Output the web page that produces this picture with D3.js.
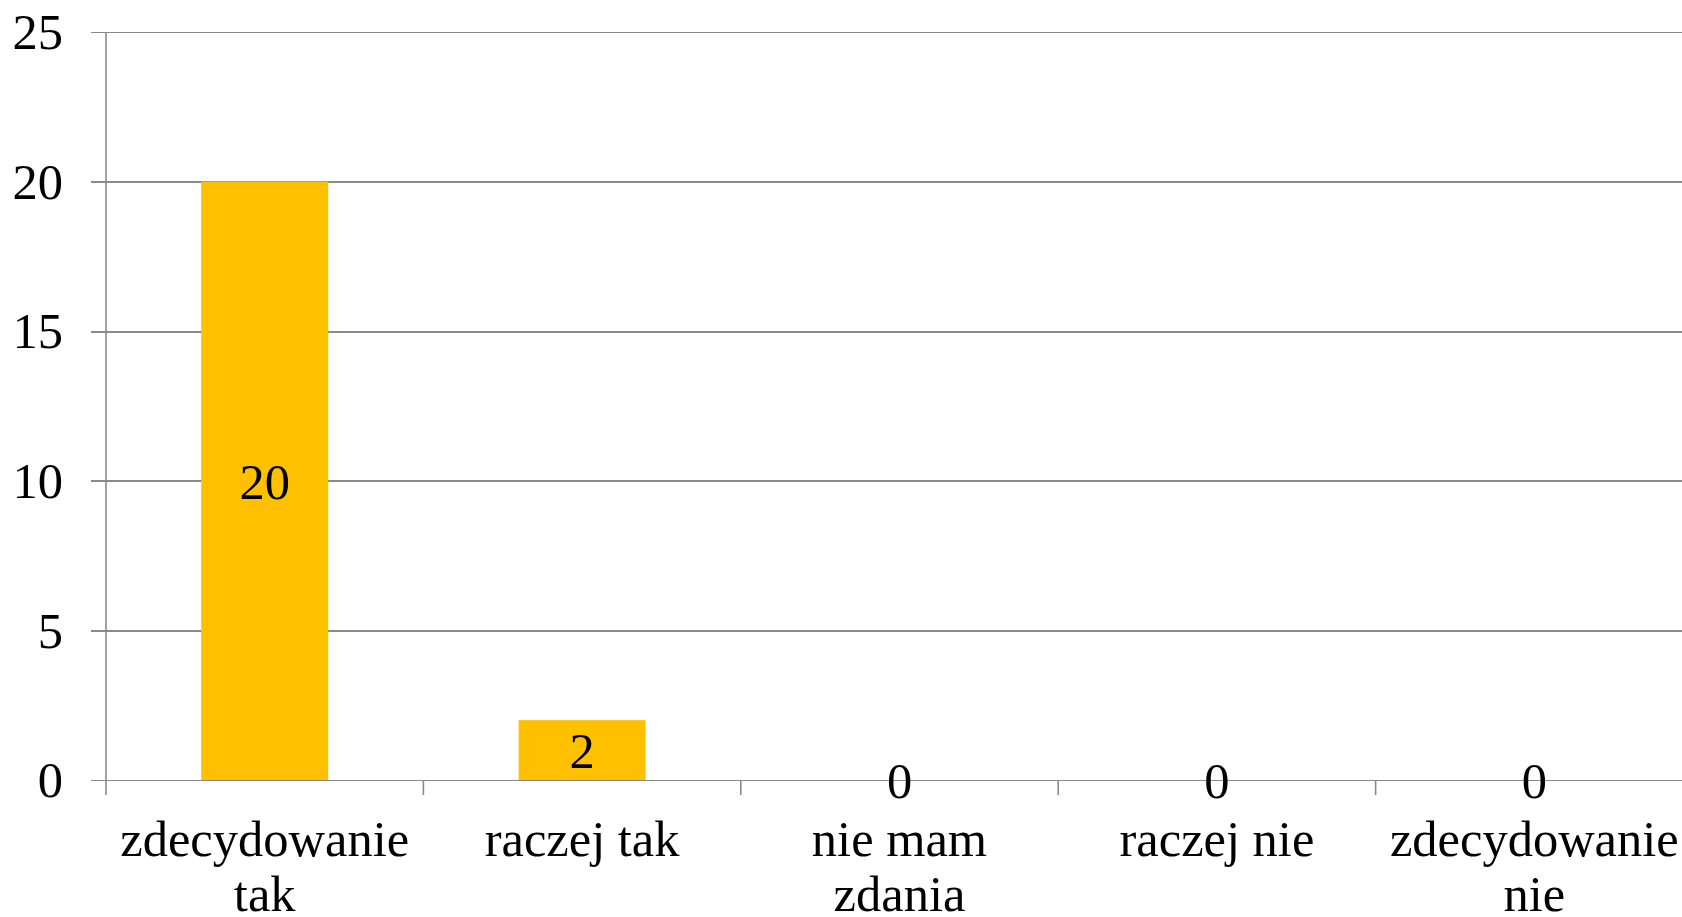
<!DOCTYPE html>
<html lang="pl">
<meta charset="utf-8">
<head>
    <title>Wykres</title>
    <script src="https://d3js.org/d3.v7.min.js"></script>
    <style type="text/css">
        body { margin: 0; background: #fff; }
        svg text { font-family: "Liberation Serif", serif; font-size: 50.5px; fill: #000; }
        .grid line { stroke: #8a8a8a; stroke-width: 1.6; shape-rendering: crispEdges; }
        .grid path { display: none; }
    </style>
</head>
<body>
<div id="chart"></div>
<script>
// Data
var categories = [["zdecydowanie", "tak"], ["raczej tak"], ["nie mam", "zdania"], ["raczej nie"], ["zdecydowanie", "nie"]];
var values = [20, 2, 0, 0, 0];
var yTicks = [0, 5, 10, 15, 20, 25];

var W = 1682, H = 917;
var margin = {left: 106, top: 32};
var plotW = 1587, plotH = 748;

var svg = d3.select("#chart").append("svg")
    .attr("width", W).attr("height", H);

var g = svg.append("g").attr("transform", "translate(" + margin.left + "," + margin.top + ")");

var x = d3.scaleBand()
    .domain(d3.range(values.length))
    .range([0, plotW]);

var y = d3.scaleLinear()
    .domain([0, 25])
    .range([plotH, 0]);

// gridlines + y labels
g.append("g")
    .attr("class", "grid")
    .call(d3.axisLeft(y).tickValues(yTicks).tickSize(-plotW).tickFormat(""))
    .selectAll(".tick line").attr("x1", -15);

g.selectAll(".ylab")
    .data(yTicks)
    .enter().append("text")
    .attr("class", "ylab")
    .attr("x", -43)
    .attr("y", function(d) { return y(d); })
    .attr("dy", "0.34em")
    .attr("text-anchor", "end")
    .text(function(d) { return d; });

// y axis line
g.append("line")
    .attr("x1", 0).attr("x2", 0)
    .attr("y1", 0).attr("y2", plotH + 15)
    .attr("stroke", "#8a8a8a").attr("stroke-width", 1.6);

// category ticks at band edges
g.selectAll(".xtick")
    .data(d3.range(1, values.length + 1))
    .enter().append("line")
    .attr("x1", function(d) { return x.step() * d; })
    .attr("x2", function(d) { return x.step() * d; })
    .attr("y1", plotH).attr("y2", plotH + 15)
    .attr("stroke", "#8a8a8a").attr("stroke-width", 1.6);

// bars
var barW = x.bandwidth() * 0.4;
g.selectAll("rect")
    .data(values)
    .enter().append("rect")
    .attr("x", function(d, i) { return x(i) + (x.bandwidth() - barW) / 2; })
    .attr("y", function(d) { return y(d); })
    .attr("width", barW)
    .attr("height", function(d) { return plotH - y(d); })
    .attr("fill", "#FFC000");

// data labels
g.selectAll(".vlab")
    .data(values)
    .enter().append("text")
    .attr("class", "vlab")
    .attr("x", function(d, i) { return x(i) + x.bandwidth() / 2; })
    .attr("y", function(d) { return (y(d) + plotH) / 2 + 1; })
    .attr("dy", "0.34em")
    .attr("text-anchor", "middle")
    .text(function(d) { return d; });

// category labels
var cl = g.selectAll(".xlab")
    .data(categories)
    .enter().append("text")
    .attr("class", "xlab")
    .attr("text-anchor", "middle")
    .attr("transform", function(d, i) { return "translate(" + (x(i) + x.bandwidth() / 2) + "," + (plotH + 76) + ")"; });

cl.selectAll("tspan")
    .data(function(d) { return d; })
    .enter().append("tspan")
    .attr("x", 0)
    .attr("y", function(d, i) { return i * 55; })
    .text(function(d) { return d; });
</script>
</body>
</html>
